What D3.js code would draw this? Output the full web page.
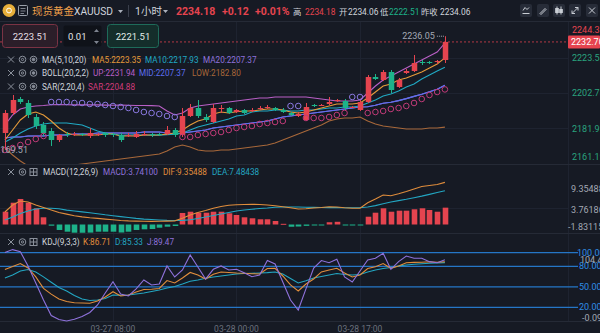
<!DOCTYPE html>
<html><head><meta charset="utf-8">
<script src="https://cdn.jsdelivr.net/npm/d3@7/dist/d3.min.js"></script>
<style>
html,body{margin:0;padding:0;background:#161a24;overflow:hidden}
svg{display:block}
text{font-family:Roboto,"Noto Sans CJK SC",sans-serif}
</style></head><body>
<svg id="chart" width="600" height="333"></svg>
<script>
// ---------- DATA ----------
const open  = [2179.35,2191.07,2199.27,2196.92,2188.72,2184.04,2180.52,2175.25,2178.76,2178.18,
               2178.76,2177.59,2178.18,2179.35,2178.76,2178.18,2177.59,2177.01,2178.18,2178.76,
               2178.76,2178.76,2181.11,2178.18,2189.31,2194.00,2188.72,2185.79,2193.41,2194.00,
               2191.65,2192.82,2192.24,2193.41,2194.00,2194.00,2192.82,2191.07,2189.31,2186.96,
               2195.75,2195.17,2196.34,2198.09,2198.09,2194.00,2192.82,2197.51,2212.15,2210.40,
               2215.08,2206.30,2214.50,2215.67,2220.94,2220.94,2220.94,2222.11];
const high  = [2192.82,2201.61,2200.44,2198.68,2190.48,2185.79,2182.28,2178.76,2179.93,2179.93,
               2179.35,2182.28,2179.35,2179.93,2179.35,2179.35,2179.35,2180.52,2180.52,2179.35,
               2179.35,2183.45,2182.28,2194.00,2196.34,2198.68,2190.48,2196.34,2195.75,2194.58,
               2193.41,2193.41,2194.00,2195.17,2195.75,2194.58,2194.00,2191.65,2191.65,2196.92,
               2196.34,2196.34,2200.44,2199.27,2199.27,2195.17,2198.68,2213.32,2213.91,2216.25,
               2216.25,2211.57,2216.84,2225.04,2222.11,2221.53,2222.11,2236.05];
const low   = [2169.51,2189.89,2196.34,2188.14,2181.69,2177.59,2171.73,2174.08,2177.01,2177.59,
               2177.59,2176.42,2177.59,2177.01,2177.01,2174.08,2177.01,2176.42,2177.59,2177.01,
               2177.59,2178.18,2177.01,2177.01,2188.72,2188.14,2185.79,2185.21,2191.07,2190.48,
               2191.07,2190.48,2191.65,2192.82,2193.41,2192.24,2191.07,2189.31,2188.72,2186.38,
               2194.58,2195.17,2195.75,2197.51,2192.82,2194.00,2192.24,2196.92,2210.40,2209.81,
               2202.78,2205.71,2213.91,2215.08,2219.18,2219.77,2219.77,2220.35];
const close = [2191.07,2198.68,2197.51,2189.89,2183.45,2179.35,2175.25,2178.18,2178.18,2178.76,
               2178.18,2179.35,2178.76,2178.18,2178.18,2175.25,2178.18,2178.76,2178.76,2178.18,
               2178.18,2181.11,2178.18,2189.31,2194.00,2189.31,2186.96,2194.00,2194.00,2191.07,
               2192.82,2191.07,2192.82,2194.00,2194.58,2192.82,2191.65,2189.89,2190.48,2194.58,
               2195.17,2195.75,2197.51,2198.68,2194.00,2194.58,2197.51,2212.15,2210.98,2215.08,
               2204.54,2210.40,2215.67,2220.35,2220.35,2220.35,2221.53,2232.70];
const ma5   = [2175.25,2181.11,2186.96,2190.48,2191.65,2189.89,2186.38,2182.28,2179.35,2178.18,
               2178.18,2178.18,2178.18,2178.76,2178.76,2177.59,2177.59,2177.59,2178.18,2178.18,
               2178.18,2178.76,2179.35,2181.11,2184.04,2186.38,2187.55,2190.48,2191.65,2191.07,
               2191.77,2192.24,2192.24,2192.82,2193.41,2193.41,2192.82,2191.65,2191.07,2191.65,
               2192.82,2194.00,2195.17,2196.34,2196.34,2196.34,2196.92,2199.85,2203.37,2206.89,
               2208.05,2210.40,2211.57,2213.32,2215.08,2217.43,2219.77,2223.35];
const ma10  = [2174.08,2176.42,2179.35,2181.69,2183.45,2184.62,2185.21,2185.21,2185.21,2184.62,
               2184.04,2182.28,2180.52,2179.35,2178.76,2178.00,2178.10,2178.30,2178.20,2178.00,
               2178.10,2178.40,2178.60,2179.35,2181.11,2182.86,2184.04,2185.21,2186.38,2187.55,
               2189.31,2189.89,2191.65,2192.24,2192.24,2192.82,2192.82,2192.24,2192.24,2192.82,
               2192.82,2193.41,2194.00,2194.00,2194.58,2194.58,2195.17,2196.92,2198.68,2201.02,
               2202.19,2203.95,2206.30,2208.05,2210.98,2213.32,2215.67,2217.93];
const bollMid = [2176.42,2177.01,2177.01,2177.59,2177.59,2177.59,2178.18,2178.18,2178.18,2178.76,
               2178.76,2178.76,2179.35,2179.35,2179.35,2179.35,2179.35,2179.35,2179.93,2179.93,
               2179.93,2179.35,2178.76,2179.35,2179.93,2180.52,2181.11,2182.28,2182.86,2183.45,
               2184.04,2184.62,2185.21,2185.79,2186.38,2187.55,2188.72,2189.31,2189.89,2190.48,
               2191.07,2191.65,2192.24,2192.82,2193.41,2194.00,2194.58,2194.76,2195.58,2196.81,
               2197.39,2198.33,2199.50,2200.79,2202.08,2203.48,2204.95,2207.37];
const ma20 = bollMid; // MA20 and the Bollinger middle band show the same values
const bollUp = [2184.04,2189.89,2193.41,2194.58,2195.17,2195.46,2195.90,2196.00,2195.90,2195.80,
               2195.80,2195.90,2195.80,2195.70,2195.60,2195.70,2195.60,2195.50,2195.50,2195.40,
               2195.17,2192.24,2189.89,2191.07,2194.00,2195.17,2195.75,2196.34,2196.92,2197.51,
               2198.09,2198.68,2199.27,2199.85,2199.85,2200.44,2200.44,2200.44,2200.44,2200.44,
               2199.85,2199.27,2198.68,2198.09,2198.09,2198.09,2198.68,2202.78,2206.89,2210.40,
               2212.74,2215.08,2217.43,2219.77,2222.11,2224.46,2226.80,2231.94];
const bollLow = [2170.56,2166.46,2162.95,2160.02,2158.85,2158.26,2158.26,2158.85,2160.02,2160.60,
               2161.19,2161.77,2162.36,2162.95,2163.53,2164.12,2164.70,2165.29,2165.87,2166.46,
               2167.05,2168.80,2171.15,2172.32,2171.15,2169.39,2168.80,2168.80,2169.39,2169.39,
               2169.97,2170.56,2171.15,2171.73,2172.32,2173.49,2175.25,2177.01,2178.76,2180.52,
               2182.28,2184.04,2186.38,2187.55,2188.14,2188.14,2188.72,2186.38,2184.62,2183.45,
               2182.86,2182.28,2181.69,2181.69,2181.69,2182.28,2182.28,2182.80];
const sar   = [2169.39,2170.56,2172.32,2174.08,2175.83,2177.59,2197.51,2197.51,2197.51,2196.92,
               2196.92,2196.34,2196.34,2195.75,2195.17,2194.58,2194.00,2192.82,2191.65,2191.07,
               2190.48,2189.31,2188.72,2177.01,2177.01,2178.18,2178.76,2179.35,2179.93,2181.11,
               2182.28,2182.86,2183.45,2184.62,2185.21,2185.79,2186.38,2195.17,2195.17,2188.14,
               2188.14,2188.14,2188.72,2189.89,2191.07,2200.44,2200.44,2191.07,2191.65,2192.24,
               2193.41,2194.00,2195.17,2196.92,2199.27,2201.61,2203.37,2204.88];
const macdHist = [2.84,4.84,5.67,4.84,3.60,1.60,-0.27,-1.22,-1.60,-1.82,
               -1.83115,-1.80,-1.60,-1.60,-1.60,-1.78,-1.60,-1.22,-1.07,-1.00,
               -0.71,-0.49,-0.33,2.56,2.84,2.62,2.62,2.84,2.84,2.49,
               2.11,1.60,1.38,1.16,1.16,0.78,0.15,-0.50,-0.45,-0.30,
               -0.20,-0.20,0.50,0.60,-0.20,-0.20,-0.15,1.73,2.62,3.60,
               2.84,3.07,3.07,3.38,3.60,3.22,2.84,3.741];
const dif   = [2.78,4.33,5.22,5.00,4.33,3.78,3.22,2.67,2.30,1.95,
               1.70,1.50,1.35,1.20,1.05,0.90,0.80,0.75,0.72,0.70,
               0.72,0.75,0.80,1.38,2.11,2.67,3.11,3.60,4.00,4.27,
               4.38,4.44,4.49,4.44,4.33,4.16,3.96,3.71,3.44,3.51,
               3.67,3.78,3.93,3.89,3.71,3.60,3.60,4.84,5.67,6.56,
               6.40,6.84,7.33,7.89,8.44,8.67,8.89,9.35488];
const dea   = [1.00,1.67,2.44,3.00,3.44,3.60,3.60,3.51,3.20,3.00,
               2.80,2.60,2.40,2.15,1.95,1.75,1.55,1.35,1.20,1.10,
               1.00,0.92,0.88,0.92,1.07,1.33,1.67,2.00,2.33,2.67,
               3.00,3.22,3.38,3.56,3.67,3.82,3.89,3.89,3.89,3.84,
               3.80,3.78,3.76,3.76,3.73,3.71,3.71,3.90,4.20,4.60,
               5.00,5.30,5.60,5.95,6.30,6.70,7.10,7.48438];
const kVal  = [75.3,79.7,84.1,77.5,64.4,47.7,39.2,32.2,28.5,26.6,
               26.3,25.9,29.2,35.1,42.8,36.5,38.0,42.4,46.1,46.4,
               47.5,59.2,55.6,62.9,71.0,67.3,61.4,68.3,71.7,71.0,
               70.2,69.8,69.2,68.8,76.8,77.1,65.8,52.7,43.9,54.1,
               61.4,71.7,74.6,77.1,70.2,64.4,67.3,76.8,79.4,84.1,
               77.1,80.5,85.3,85.7,85.9,86.6,86.0,86.71];
const dVal  = [62.9,67.3,73.1,75.3,71.7,64.5,56.7,49.0,43.9,37.3,
               32.2,30.0,30.7,32.9,38.0,37.7,38.0,39.5,40.9,43.1,
               45.3,48.3,50.5,54.1,58.0,60.0,62.5,64.4,65.8,67.3,
               68.8,69.5,69.8,70.2,70.7,71.7,68.8,62.2,55.6,58.8,
               62.9,65.1,67.3,69.5,68.0,67.3,68.0,71.7,74.6,76.8,
               78.3,80.5,81.9,83.0,83.7,84.4,84.8,85.33];
const jVal  = [100.2,104.45,101.4,80.5,55.6,30.7,8.0,2.1,-0.09,2.4,
               6.5,12.4,23.4,40.9,57.5,39.5,36.5,46.8,60.0,52.7,
               54.1,80.5,64.4,74.6,96.6,79.0,61.4,75.6,80.5,74.6,
               75.6,70.7,64.8,67.3,88.5,83.4,57.0,30.7,16.0,47.0,
               77.5,88.5,85.3,90.3,64.4,57.0,73.1,89.3,91.7,99.1,
               75.6,86.8,95.1,91.7,91.7,86.8,85.3,89.47];
const priceTicks = [2244.37,2223.57,2202.78,2181.99,2161.19];
const lastPrice  = 2232.70;
const macdTicks  = [9.35488,3.76186,-1.83115];
const kdjLevels  = [100,80,50,20];
const kdjRange   = [104.45,-0.09];
const timeTickIdx    = [14,30,46];
const timeTickLabels = ['03-27 08:00','03-28 00:00','03-28 17:00'];

// ---------- DRAWING ----------
const svg = d3.select('#chart');
const BG='#161a24', RED='#e5444f', GREEN='#1db38a', GRID='#1e2330', SEP='#252a36';
const C = {ma5:'#e69b3a',ma10:'#20a9c4',ma20:'#8f72dc',up:'#b95fc6',mid:'#5d6ef0',low:'#a8683a',
           sar:'#d03a7a',sarUp:'#8a78e0',sarDn:'#c03a78',dif:'#e08d3c',dea:'#23a6c2',macd:'#8f72dc',
           k:'#e08d3c',d:'#23a6c2',j:'#8f72dc',txt:'#d0d4dc',grey:'#a3a9b4',level:'#2576c6',levelTxt:'#2f8de4',axisG:'#2aa37f'};
const N = close.length, idx = d3.range(N);
const x  = d3.scaleLinear().domain([0,N-1]).range([4.9,444.9]);
const yP = d3.scaleLinear().domain([2161.19,2244.37]).range([164,22]);
const yM = d3.scaleLinear().domain([-1.89,13.0]).range([233,166]);
const yK = d3.scaleLinear().domain([-0.09,104.45]).range([321,249.6]);

svg.append('rect').attr('width',600).attr('height',333).attr('fill',BG);
const defs = svg.append('defs');
defs.append('clipPath').attr('id','cMain').append('rect').attr('x',0).attr('y',22).attr('width',568).attr('height',142);
defs.append('clipPath').attr('id','cMacd').append('rect').attr('x',0).attr('y',165).attr('width',568).attr('height',68);
defs.append('clipPath').attr('id','cKdj').append('rect').attr('x',0).attr('y',234).attr('width',600).attr('height',88);

// grid
const grid = svg.append('g').attr('stroke',GRID).attr('stroke-width',1);
timeTickIdx.forEach(i=>grid.append('line').attr('x1',Math.round(x(i))+0.5).attr('x2',Math.round(x(i))+0.5).attr('y1',22).attr('y2',321));
priceTicks.slice(1,4).forEach(p=>grid.append('line').attr('x1',0).attr('x2',568).attr('y1',Math.round(yP(p))+0.5).attr('y2',Math.round(yP(p))+0.5));
grid.append('line').attr('x1',0).attr('x2',568).attr('y1',Math.round(yM(macdTicks[1]))+0.5).attr('y2',Math.round(yM(macdTicks[1]))+0.5);
grid.append('line').attr('x1',568.5).attr('x2',568.5).attr('y1',22).attr('y2',321);
// separators
const sep = svg.append('g').attr('stroke',SEP).attr('stroke-width',1);
[21.5,164.5,233.5,321.5].forEach(v=>sep.append('line').attr('x1',0).attr('x2',600).attr('y1',v).attr('y2',v));

// ---- main pane ----
const main = svg.append('g').attr('clip-path','url(#cMain)');
const lineGen = ys => d3.line().x((d,i)=>x(i)).y(d=>ys(d));
function drawLine(g, data, scale, color){
  g.append('path').attr('d',lineGen(scale)(data)).attr('fill','none').attr('stroke',color).attr('stroke-width',1.1);
}
drawLine(main,bollLow,yP,C.low);
drawLine(main,bollUp,yP,C.up);
drawLine(main,ma20,yP,C.ma20);
drawLine(main,bollMid,yP,C.mid);
drawLine(main,ma10,yP,C.ma10);
drawLine(main,ma5,yP,C.ma5);

const isUp = i => close[i] >= open[i];
main.selectAll('line.wick').data(idx).join('line').attr('class','wick')
  .attr('x1',i=>Math.round(x(i))+0.5).attr('x2',i=>Math.round(x(i))+0.5)
  .attr('y1',i=>yP(high[i])).attr('y2',i=>yP(low[i]))
  .attr('stroke',i=>isUp(i)?RED:GREEN).attr('stroke-width',1);
main.selectAll('rect.body').data(idx).join('rect').attr('class','body')
  .attr('x',i=>Math.round(x(i))+0.5-2.75).attr('width',5.5)
  .attr('y',i=>Math.min(yP(open[i]),yP(close[i])))
  .attr('height',i=>Math.max(1,Math.abs(yP(open[i])-yP(close[i]))))
  .attr('fill',i=>isUp(i)?RED:GREEN);

main.selectAll('circle.sar').data(idx).join('circle').attr('class','sar')
  .attr('cx',i=>x(i)).attr('cy',i=>yP(sar[i])).attr('r',2.8)
  .attr('fill','none').attr('stroke-width',1)
  .attr('stroke',i=>sar[i]>close[i]?C.sarUp:C.sarDn);

// current price dashed line
svg.append('line').attr('x1',0).attr('x2',568).attr('y1',yP(lastPrice)).attr('y2',yP(lastPrice))
  .attr('stroke',RED).attr('stroke-opacity',0.75).attr('stroke-dasharray','2,2');

// max / min markers
const iMax = d3.maxIndex(high), iMin = d3.minIndex(low);
svg.append('line').attr('x1',x(iMax)-8).attr('x2',x(iMax)).attr('y1',yP(high[iMax])).attr('y2',yP(high[iMax]))
  .attr('stroke',C.grey).attr('stroke-dasharray','1,1');
svg.append('text').attr('x',x(iMax)-10).attr('y',yP(high[iMax])+3).attr('text-anchor','end')
  .attr('font-size',9).attr('fill',C.grey).text(high[iMax].toFixed(2));
svg.append('text').attr('x',28).attr('y',yP(low[iMin])+3).attr('text-anchor','end')
  .attr('font-size',9).attr('fill',C.grey).text(low[iMin].toFixed(2));

// ---- MACD pane ----
const mg = svg.append('g').attr('clip-path','url(#cMacd)');
mg.selectAll('rect.h').data(idx).join('rect').attr('class','h')
  .attr('x',i=>Math.round(x(i))+0.5-2.8).attr('width',5.6)
  .attr('y',i=>Math.min(yM(0),yM(macdHist[i])))
  .attr('height',i=>Math.max(1,Math.abs(yM(macdHist[i])-yM(0))))
  .attr('fill',i=>macdHist[i]>=0?RED:GREEN);
drawLine(mg,dea,yM,C.dea);
drawLine(mg,dif,yM,C.dif);

// ---- KDJ pane ----
const kg = svg.append('g');
kdjLevels.forEach(v=>kg.append('line').attr('x1',0).attr('x2',578).attr('y1',yK(v)).attr('y2',yK(v))
  .attr('stroke',C.level).attr('stroke-width',1.2));
const kc = svg.append('g').attr('clip-path','url(#cKdj)');
drawLine(kc,dVal,yK,C.d);
drawLine(kc,kVal,yK,C.k);
drawLine(kc,jVal,yK,C.j);

// ---- right axis labels ----
const ax = svg.append('g').attr('font-size',9);
priceTicks.forEach((p,k)=>{
  let yy = yP(p); if(k===0) yy+=8; if(k===priceTicks.length-1) yy-=7;
  ax.append('text').attr('x',572).attr('y',yy+3.2).attr('fill',k===0?RED:C.axisG).text(p.toFixed(2));
});
ax.append('rect').attr('x',568).attr('y',yP(lastPrice)-6.5).attr('width',32).attr('height',13).attr('fill',RED).attr('rx',1);
ax.append('text').attr('x',571).attr('y',yP(lastPrice)+3.3).attr('fill','#ffffff').text(lastPrice.toFixed(2));
const mOff=[6,2,-6];
macdTicks.forEach((v,k)=>ax.append('text').attr('x',k===2?568:571).attr('y',yM(v)+mOff[k]+3.2).attr('fill',C.grey).text(v.toFixed(5)));
kdjLevels.forEach((v,k)=>ax.append('text').attr('x',k===0?577:579).attr('y',yK(v)+3.2).attr('fill',C.levelTxt).text(v.toFixed(2)));
ax.append('text').attr('x',580).attr('y',yK(kdjRange[0])+9.7+3.2).attr('fill',C.grey).text(kdjRange[0].toFixed(2));
ax.append('text').attr('x',582).attr('y',yK(kdjRange[1])-3.7+3.2).attr('fill',C.grey).text(kdjRange[1].toFixed(2));

// time labels
timeTickIdx.forEach((i,k)=>svg.append('text').attr('x',x(i)).attr('y',332).attr('text-anchor','middle')
  .attr('font-size',8.5).attr('fill','#6b717d').text(timeTickLabels[k]));

// ---- legends ----
function icons(yc, third){
  const g = svg.append('g').attr('stroke','#8a909b').attr('fill','none').attr('stroke-width',1);
  g.append('path').attr('d',`M8,${yc-3}L14,${yc+3}M14,${yc-3}L8,${yc+3}`);
  g.append('circle').attr('cx',22.5).attr('cy',yc).attr('r',3.3);
  g.append('circle').attr('cx',22.5).attr('cy',yc).attr('r',1.1);
  if(third==='eye'){
    g.append('circle').attr('cx',33.5).attr('cy',yc).attr('r',3.3);
    g.append('circle').attr('cx',33.5).attr('cy',yc).attr('r',1.3).attr('fill','#8a909b');
  } else {
    g.append('rect').attr('x',30).attr('y',yc-3.5).attr('width',7).attr('height',7);
    g.append('path').attr('d',`M33.5,${yc-3.5}V${yc+3.5}M30,${yc}H37`);
  }
}
function legend(yc, items){
  items.forEach(([tx,xx,col])=>svg.append('text').attr('x',xx).attr('y',yc+3).attr('font-size',8.2).attr('fill',col).text(tx));
}
const L = a => a[a.length-1];
icons(59.5,'eye'); legend(59.5,[['MA(5,10,20)',42,C.txt],['MA5:'+L(ma5).toFixed(2),92,C.ma5],['MA10:'+L(ma10).toFixed(2),145,C.ma10],['MA20:'+L(ma20).toFixed(2),203,C.ma20]]);
icons(73,'eye'); legend(73,[['BOLL(20,2,2)',42,C.txt],['UP:'+L(bollUp).toFixed(2),93,C.up],['MID:'+L(bollMid).toFixed(2),139,C.mid],['LOW:'+L(bollLow).toFixed(2),192,C.low]]);
icons(86.5,'eye'); legend(86.5,[['SAR(2,20,4)',42,C.txt],['SAR:'+L(sar).toFixed(2),88,C.sar]]);
icons(172,'box'); legend(172,[['MACD(12,26,9)',43,C.txt],['MACD:'+L(macdHist).toFixed(5),103,C.macd],['DIF:'+L(dif).toFixed(5),163,C.dif],['DEA:'+L(dea).toFixed(5),212,C.dea]]);
icons(242,'box'); legend(242,[['KDJ(9,3,3)',42,C.txt],['K:'+L(kVal).toFixed(2),83,C.k],['D:'+L(dVal).toFixed(2),115,C.d],['J:'+L(jVal).toFixed(2),147,C.j]]);

// ---- order boxes ----
svg.append('rect').attr('x',2.5).attr('y',24.5).attr('width',55).attr('height',23).attr('rx',3).attr('fill','#2b1e29').attr('stroke','#7a3344');
svg.append('text').attr('x',30).attr('y',39.5).attr('text-anchor','middle').attr('font-size',9.5).attr('fill','#e6dfe3').text('2223.51');
svg.append('rect').attr('x',63.5).attr('y',25.5).attr('width',38).attr('height',21).attr('rx',2).attr('fill','#0f1219');
svg.append('text').attr('x',68).attr('y',39.5).attr('font-size',9.5).attr('fill','#e0e3e8').text('0.01');
svg.append('path').attr('d','M94,32L96.5,29L99,32Z M94,41L96.5,44L99,41Z').attr('fill','#7d838f');
svg.append('rect').attr('x',107.5).attr('y',24.5).attr('width',51).attr('height',23).attr('rx',3).attr('fill','#142e2b').attr('stroke','#1e6b5a');
svg.append('text').attr('x',133).attr('y',39.5).attr('text-anchor','middle').attr('font-size',9.5).attr('fill','#e0ece8').text('2221.51');

// ---- header ----
const hd = svg.append('g');
hd.append('circle').attr('cx',9).attr('cy',10.5).attr('r',6.5).attr('fill','#e6ae3a');
hd.append('circle').attr('cx',9).attr('cy',10.5).attr('r',2.4).attr('fill','none').attr('stroke','#fff').attr('stroke-width',1);
hd.append('rect').attr('x',18.5).attr('y',5.5).attr('width',9).attr('height',10).attr('rx',1).attr('fill','none').attr('stroke','#9aa0aa');
hd.append('path').attr('d','M20.5,8.5H25.5M20.5,11H25.5M20.5,13.5H24').attr('stroke','#9aa0aa').attr('stroke-width',0.8);
hd.append('text').attr('x',32).attr('y',14.5).attr('font-size',10.5).attr('fill','#f0a04b').text('现货黄金');
hd.append('text').attr('x',74).attr('y',14.5).attr('font-size',10.2).attr('fill',C.txt).text('XAUUSD');
hd.append('path').attr('d','M118,10L123,10L120.5,13Z M163,10L168,10L165.5,13Z').attr('fill','#aab0bb');
hd.append('line').attr('x1',128.5).attr('x2',128.5).attr('y1',5).attr('y2',17).attr('stroke','#3a3f4b');
hd.append('text').attr('x',135).attr('y',14.5).attr('font-size',10.5).attr('fill',C.txt).text('1小时');
hd.append('text').attr('x',176).attr('y',14.5).attr('font-size',10.5).attr('font-weight','bold').attr('fill',RED).text('2234.18');
hd.append('text').attr('x',222).attr('y',14.5).attr('font-size',10.5).attr('font-weight','bold').attr('fill',RED).text('+0.12');
hd.append('text').attr('x',255).attr('y',14.5).attr('font-size',10.5).attr('font-weight','bold').attr('fill',RED).text('+0.01%');
[['高',293,C.txt],['2234.18',305,RED],['开',339,C.txt],['2234.06',348,C.txt],['低',380,C.txt],['2222.51',389,GREEN],['昨收',421,C.txt],['2234.06',440,C.txt]]
  .forEach(([t,xx,col])=>hd.append('text').attr('x',xx).attr('y',14.5).attr('font-size',8.4).attr('fill',col).text(t));
[520,537,553,569,586].forEach((bx,k)=>{
  hd.append('rect').attr('x',bx).attr('y',4).attr('width',12).attr('height',13).attr('rx',2).attr('fill','#272c38');
  const ic = hd.append('g').attr('stroke','#c9cdd4').attr('fill','none').attr('stroke-width',1);
  const cx = bx+6, cy = 10.5;
  if(k===0){ ic.append('path').attr('d',`M${cx-3.5},${cy+3}H${cx+3.5}M${cx-3},${cy}L${cx-1},${cy-3}L${cx+1},${cy-1}L${cx+3},${cy-3}`); }
  else if(k===1){ ic.append('path').attr('d',`M${cx-3},${cy+3}L${cx+2},${cy-2}L${cx+3},${cy-1}L${cx-2},${cy+4}Z`); }
  else if(k===2){ ic.append('path').attr('d',`M${cx-2},${cy-4}V${cy+4}M${cx+2},${cy-4}V${cy+4}`); ic.append('rect').attr('x',cx-3.3).attr('y',cy-2).attr('width',2.6).attr('height',4).attr('fill','#c9cdd4'); ic.append('rect').attr('x',cx+0.7).attr('y',cy-1).attr('width',2.6).attr('height',3).attr('fill','#c9cdd4'); }
  else if(k===3){ ic.append('path').attr('d',`M${cx-3},${cy+3}L${cx+3},${cy-3}M${cx},${cy-3}H${cx+3}V${cy}M${cx-3},${cy}V${cy+3}H${cx}`); }
  else { ic.append('path').attr('d',`M${cx-3},${cy-3}L${cx+3},${cy+3}M${cx+3},${cy-3}L${cx-3},${cy+3}`); }
});
</script></body></html>
